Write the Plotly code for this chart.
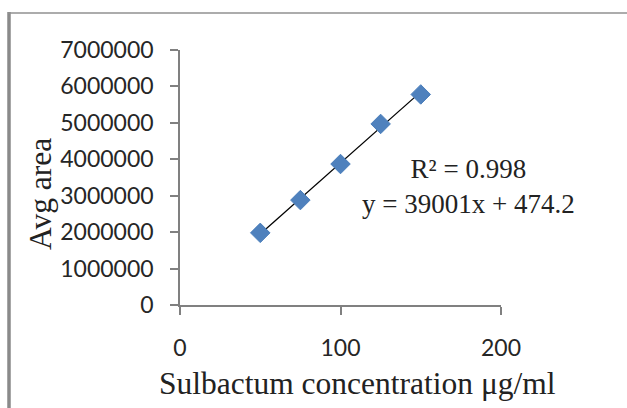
import plotly.graph_objects as go

# Data
concentration = [50, 75, 100, 125, 150]
avg_area = [1980000, 2880000, 3870000, 4970000, 5780000]
slope = 39001
intercept = 474.2
r_squared = 0.998
x_ticks = [0, 100, 200]
y_ticks = [0, 1000000, 2000000, 3000000, 4000000, 5000000, 6000000, 7000000]

trend_x = [concentration[0], concentration[-1]]
trend_y = [slope * v + intercept for v in trend_x]

# plot-area pixel geometry helpers (layout only)
L, T, PW, PH = 180, 50, 321, 255
def px(x):
    return (x - L) / PW
def py(y):
    return (T + PH - y) / PH

fig = go.Figure()
fig.add_trace(go.Scatter(
    x=trend_x, y=trend_y, mode="lines",
    line=dict(color="black", width=1.3), hoverinfo="skip", showlegend=False))
fig.add_trace(go.Scatter(
    x=concentration, y=avg_area, mode="markers",
    marker=dict(symbol="diamond", size=15, color="#4F81BD",
                line=dict(color="#4A7EBB", width=1)),
    showlegend=False))

axis_line = "#808080"
tick_font = dict(family="Lato, Open Sans, sans-serif", size=23, color="#262626")
serif = "Liberation Serif, Times New Roman, serif"

fig.update_xaxes(
    range=[0, 200], tickvals=x_ticks, ticktext=[str(v) for v in x_ticks],
    showgrid=False, zeroline=False, showline=True, linecolor=axis_line, linewidth=1.5,
    ticks="outside", ticklen=8, tickcolor=axis_line, tickwidth=1.5,
    tickfont=tick_font, ticklabelstandoff=14)
fig.update_yaxes(
    range=[0, 7000000], tickvals=y_ticks, ticktext=[str(v) for v in y_ticks],
    showgrid=False, zeroline=False, showline=True, linecolor=axis_line, linewidth=1.5,
    ticks="outside", ticklen=8, tickcolor=axis_line, tickwidth=1.5,
    tickfont=tick_font, ticklabelstandoff=12)

# axis titles (offset like the reference)
fig.add_annotation(
    xref="paper", yref="paper", x=px(357), y=py(383),
    text="Sulbactum concentration μg/ml", showarrow=False,
    xanchor="center", yanchor="middle",
    font=dict(family=serif, size=31.5, color="#222"))
fig.add_annotation(
    xref="paper", yref="paper", x=px(40), y=py(194),
    text="Avg area", textangle=-90, showarrow=False,
    xanchor="center", yanchor="middle",
    font=dict(family=serif, size=31.5, color="#222"))

fig.add_annotation(
    xref="paper", yref="paper", x=px(468), y=py(186),
    text=f"R² = {r_squared}<br>y = {slope}x + {intercept}",
    showarrow=False, align="center", xanchor="center", yanchor="middle",
    font=dict(family=serif, size=27, color="#222"))

# frame lines (left thick, top thin)
fig.add_shape(type="line", xref="paper", yref="paper",
              x0=px(9), x1=px(9), y0=py(12), y1=py(420),
              line=dict(color="#8a8a8a", width=3.5))
fig.add_shape(type="line", xref="paper", yref="paper",
              x0=px(8), x1=px(640), y0=py(13), y1=py(13),
              line=dict(color="#909090", width=1.5))

fig.update_layout(
    width=627, height=408,
    margin=dict(l=L, r=627 - L - PW, t=T, b=408 - T - PH),
    paper_bgcolor="white", plot_bgcolor="white",
)

fig.write_html("out.html", config={"displayModeBar": False},
               post_script="document.body.style.margin='0';document.body.style.overflow='hidden';")
